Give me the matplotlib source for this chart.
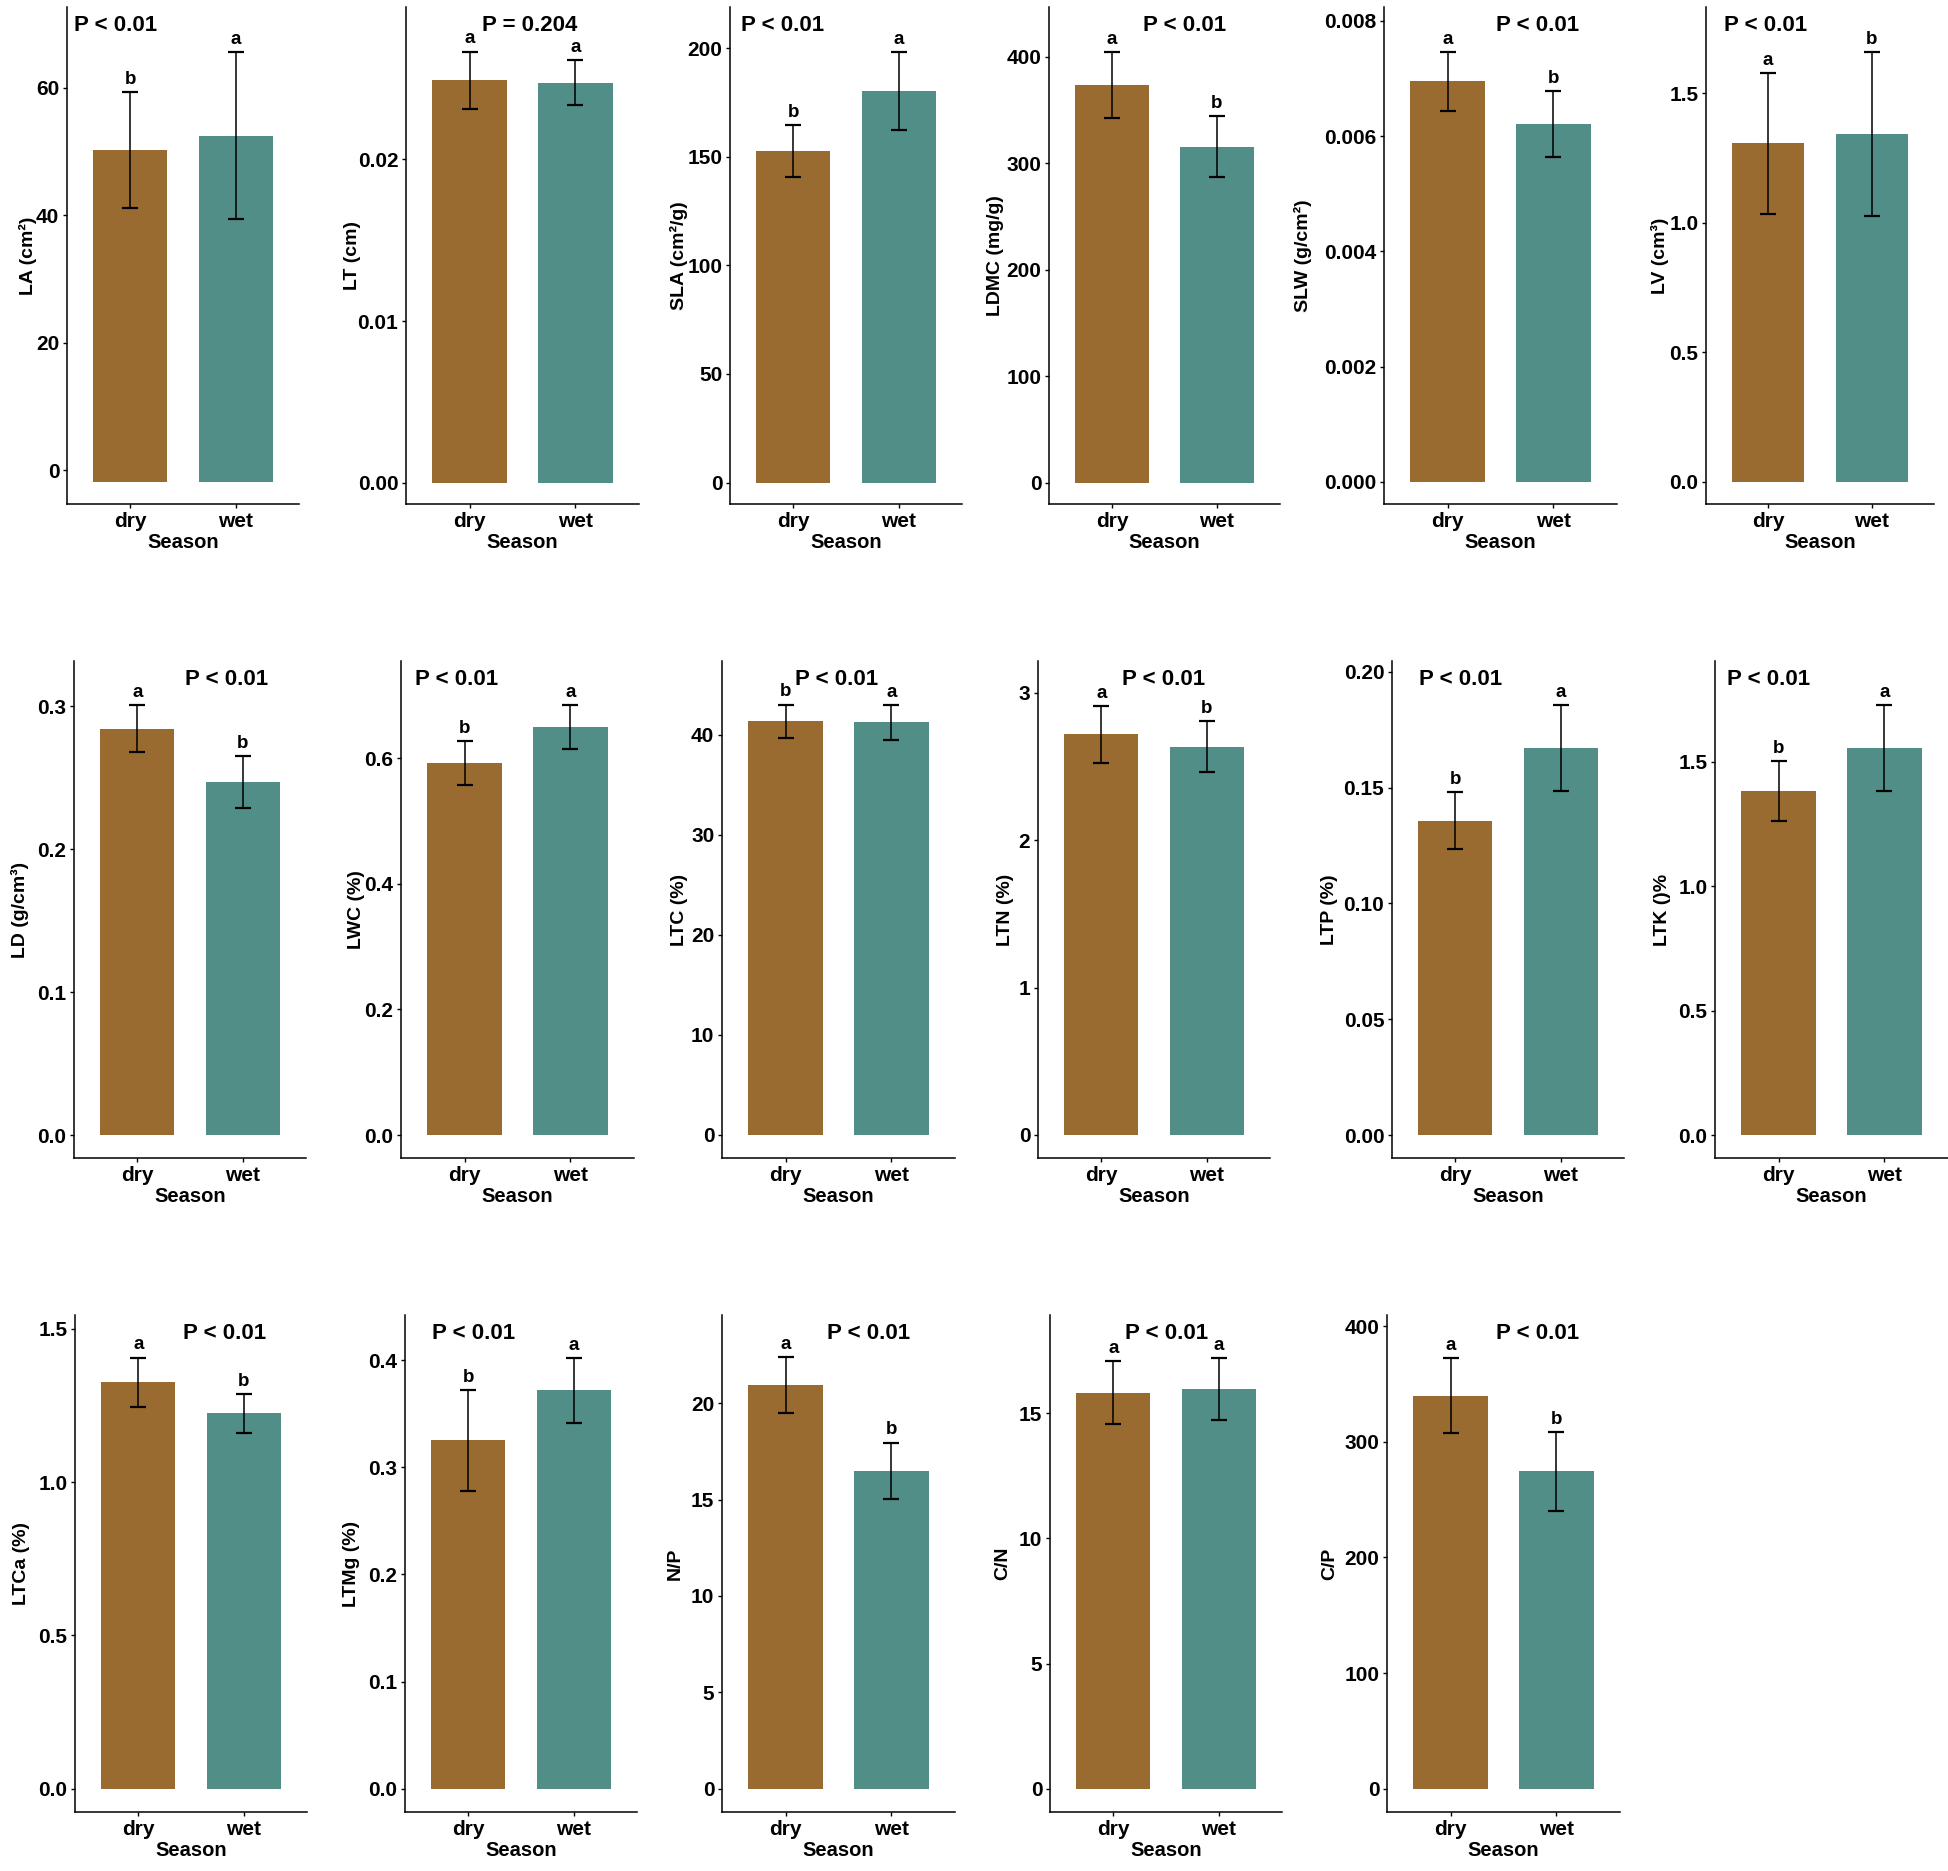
import numpy as np
import matplotlib
matplotlib.use('Agg')
import matplotlib.pyplot as plt

# data: mean and error per season (dry, wet)
seasons = ['dry', 'wet']
traits = ['LA', 'LT', 'SLA', 'LDMC', 'SLW', 'LV',
          'LD', 'LWC', 'LTC', 'LTN', 'LTP', 'LTK',
          'LTCa', 'LTMg', 'N/P', 'C/N', 'C/P']
ylabels = ['LA (cm²)', 'LT (cm)', 'SLA (cm²/g)', 'LDMC (mg/g)', 'SLW (g/cm²)', 'LV (cm³)',
           'LD (g/cm³)', 'LWC (%)', 'LTC (%)', 'LTN (%)', 'LTP (%)', 'LTK ()%',
           'LTCa (%)', 'LTMg (%)', 'N/P', 'C/N', 'C/P']
dry_mean = [50.3, 0.02487, 152.7, 373.3, 0.00695, 1.306,
            0.2842, 0.5923, 41.37, 2.716, 0.1357, 1.382,
            1.325, 0.3252, 20.93, 15.82, 339.7]
dry_err = [9.1, 0.00178, 11.9, 30.7, 0.00051, 0.271,
           0.0165, 0.035, 1.67, 0.194, 0.0124, 0.120,
           0.081, 0.0473, 1.45, 1.26, 32.4]
wet_mean = [52.5, 0.02473, 180.4, 315.4, 0.00621, 1.343,
            0.2469, 0.6495, 41.26, 2.631, 0.1672, 1.556,
            1.224, 0.3719, 16.50, 15.97, 274.3]
wet_err = [13.1, 0.0014, 18.0, 28.6, 0.00057, 0.316,
           0.018, 0.035, 1.74, 0.173, 0.0185, 0.173,
           0.064, 0.0301, 1.46, 1.25, 33.9]
bar_base = [-1.9, 0, 0, 0, 0, 0,
            0, 0, 0, 0, 0, 0,
            0, 0, 0, 0, 0]
dry_letter = ['b', 'a', 'b', 'a', 'a', 'a',
              'a', 'b', 'b', 'a', 'b', 'b',
              'a', 'b', 'a', 'a', 'a']
wet_letter = ['a', 'a', 'a', 'b', 'b', 'b',
              'b', 'a', 'a', 'b', 'a', 'a',
              'b', 'a', 'b', 'a', 'b']
p_text = ['P < 0.01', 'P = 0.204', 'P < 0.01', 'P < 0.01', 'P < 0.01', 'P < 0.01',
          'P < 0.01', 'P < 0.01', 'P < 0.01', 'P < 0.01', 'P < 0.01', 'P < 0.01',
          'P < 0.01', 'P < 0.01', 'P < 0.01', 'P < 0.01', 'P < 0.01']
yticks = [[0, 20, 40, 60], [0, 0.01, 0.02], [0, 50, 100, 150, 200], [0, 100, 200, 300, 400],
          [0, 0.002, 0.004, 0.006, 0.008], [0, 0.5, 1.0, 1.5],
          [0, 0.1, 0.2, 0.3], [0, 0.2, 0.4, 0.6], [0, 10, 20, 30, 40], [0, 1, 2, 3],
          [0, 0.05, 0.10, 0.15, 0.20], [0, 0.5, 1.0, 1.5],
          [0, 0.5, 1.0, 1.5], [0, 0.1, 0.2, 0.3, 0.4], [0, 5, 10, 15, 20], [0, 5, 10, 15],
          [0, 100, 200, 300, 400]]
ytick_fmt = ['%d', '%.2f', '%d', '%d', '%.3f', '%.1f',
             '%.1f', '%.1f', '%d', '%d', '%.2f', '%.1f',
             '%.1f', '%.1f', '%d', '%d', '%d']
ylims = [(-5.3, 72.7), (-0.0013, 0.0294), (-9.9, 219), (-20, 446.5), (-0.000385, 0.00824), (-0.086, 1.832),
         (-0.016, 0.3316), (-0.0365, 0.7544), (-2.3, 47.4), (-0.156, 3.214), (-0.0099, 0.2046), (-0.092, 1.905),
         (-0.076, 1.545), (-0.0218, 0.4423), (-1.21, 24.58), (-0.93, 18.93), (-20.2, 409.6)]

# layout in pixels (left, right of each axes; top, bottom of each row)
W, H = 1949, 1871
ax_x = [(67, 299), (406, 639), (730, 962), (1049, 1280), (1384, 1617), (1706, 1934),
        (74, 306), (401, 634), (722, 955), (1038, 1270), (1392, 1624), (1715, 1948),
        (75, 307), (405, 637), (722, 955), (1050, 1282), (1387, 1620)]
rows = [(7, 504), (661, 1158), (1315, 1812)]
ylab_off = [-39, -53, -51, -53, -81, -46,
            -54, -44, -42, -33, -62, -52,
            -53, -53, -47, -47, -57]
p_x = [0.21, 0.53, 0.226, 0.586, 0.657, 0.263,
       0.658, 0.238, 0.49, 0.54, 0.294, 0.228,
       0.645, 0.294, 0.63, 0.502, 0.645]

dry_color = '#9A6B30'
wet_color = '#518E88'

plt.rcParams['font.family'] = ['Liberation Sans', 'DejaVu Sans']
plt.rcParams['font.weight'] = 'bold'

fig = plt.figure(figsize=(W / 100, H / 100), dpi=100)

for i in range(len(traits)):
    row = rows[i // 6]
    x0, x1 = ax_x[i]
    ax = fig.add_axes([x0 / W, 1 - row[1] / H, (x1 - x0) / W, (row[1] - row[0]) / H])

    means = [dry_mean[i], wet_mean[i]]
    errs = [dry_err[i], wet_err[i]]
    base = bar_base[i]
    ax.bar([1, 2], [m - base for m in means], bottom=base, width=0.7,
           color=[dry_color, wet_color], zorder=1)
    ax.errorbar([1, 2], means, yerr=errs, fmt='none', ecolor='black',
                elinewidth=1.1, capsize=5.5, capthick=1.6, zorder=2)

    # significance letters
    for xpos, m, e, lab in zip([1, 2], means, errs, [dry_letter[i], wet_letter[i]]):
        ax.annotate(lab, (xpos, m + e), xytext=(0, 3), textcoords='offset points',
                    ha='center', va='bottom', fontsize=13.5, fontweight='bold')

    ax.text(p_x[i], 0.963, p_text[i], transform=ax.transAxes, ha='center', va='center',
            fontsize=16, fontweight='bold')

    # axes
    ax.set_xlim(0.4, 2.6)
    ax.set_ylim(*ylims[i])
    ax.set_xticks([1, 2])
    ax.set_xticklabels(seasons)
    ax.set_yticks(yticks[i])
    ax.set_yticklabels([ytick_fmt[i] % t for t in yticks[i]])
    ax.tick_params(axis='both', length=3, width=1, pad=2.5, labelsize=15)
    for s in ['top', 'right']:
        ax.spines[s].set_visible(False)
    for s in ['left', 'bottom']:
        ax.spines[s].set_linewidth(1.1)

    ax.set_xlabel('Season', fontsize=14.5, fontweight='bold', labelpad=2)
    ax.set_ylabel(ylabels[i], fontsize=14, fontweight='bold')
    ax.yaxis.set_label_coords(ylab_off[i] / (x1 - x0), 0.5)
    ax.yaxis.label.set_verticalalignment('center')

fig.savefig('out.png', dpi=100, facecolor='white')
